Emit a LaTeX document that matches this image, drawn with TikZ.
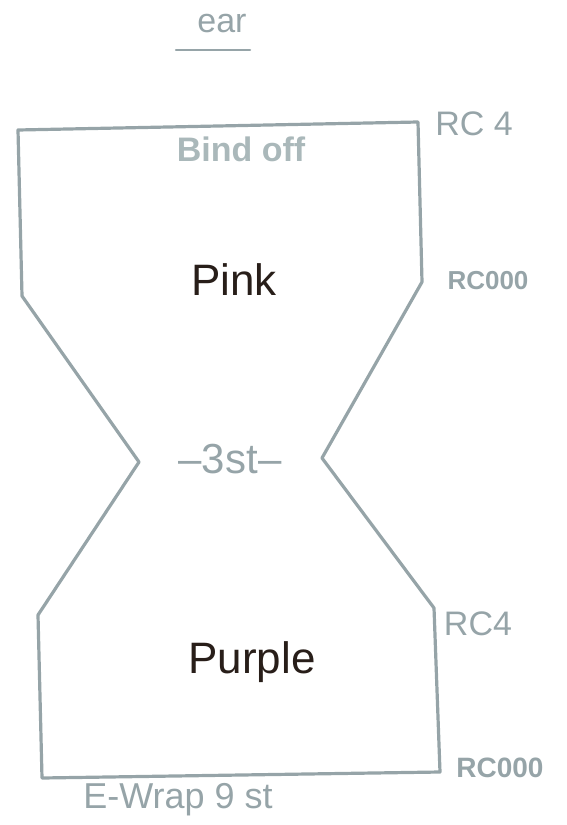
\documentclass[tikz,border=0pt]{standalone}
\usepackage{fontspec}
\setmainfont{Liberation Sans}
\definecolor{pencil}{RGB}{150,164,168}
\definecolor{lightpencil}{RGB}{170,184,186}
\definecolor{ink}{RGB}{40,30,25}
\begin{document}
\begin{tikzpicture}[x=1pt,y=-1pt,
  outline/.style={draw=pencil,line width=3.2pt,line join=round,line cap=round},
  note/.style={text=pencil,font=\fontsize{34}{36}\selectfont},
  small/.style={text=pencil,font=\bfseries\fontsize{26}{28}\selectfont},
  yarn/.style={text=ink,font=\fontsize{44}{46}\selectfont}]
\useasboundingbox (0,0) rectangle (566,825);
% outline corners
\coordinate (tl) at (18,130);
\coordinate (tr) at (418,122);
\coordinate (rb1) at (422,282);
\coordinate (rm) at (322,458);
\coordinate (rb2) at (434,608);
\coordinate (br) at (440,772);
\coordinate (bl) at (42,778);
\coordinate (lb2) at (38,615);
\coordinate (lm) at (139,462);
\coordinate (lb1) at (22,296);
\draw[outline] (tl) -- (tr) -- (rb1) -- (rm) -- (rb2) -- (br) -- (bl) -- (lb2) -- (lm) -- (lb1) -- cycle;
% title
\node[note] (ear) at (222,24) {ear};
\coordinate (ul1) at (176,50);
\coordinate (ul2) at (250,50);
\draw[draw=pencil,line width=2.5pt,line cap=round] (ul1) -- (ul2);
% labels
\node[text=lightpencil,font=\bfseries\fontsize{34}{36}\selectfont] (bind) at (241,149) {Bind off};
\node[note] (rc4a) at (474,124) {RC 4};
\node[yarn] (pink) at (234,280) {Pink};
\node[small] (rc000a) at (488,281) {RC000};
\node[note,font=\fontsize{42}{44}\selectfont] (st3) at (230,459) {–3st–};
\node[note] (rc4b) at (478,624) {RC4};
\node[yarn] (purple) at (252,662) {Purple};
\node[small,font=\bfseries\fontsize{28}{30}\selectfont] (rc000b) at (500,768) {RC000};
\node[note,font=\fontsize{36}{38}\selectfont] (ewrap) at (178,800) {E-Wrap 9 st};
\end{tikzpicture}
\end{document}
